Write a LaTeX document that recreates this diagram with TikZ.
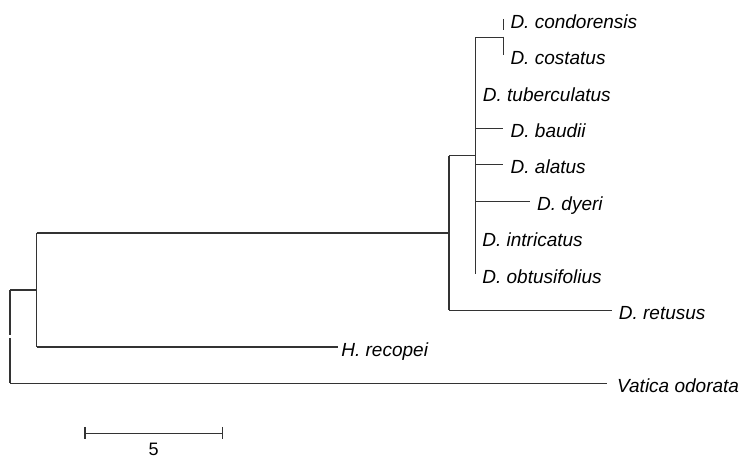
\documentclass[tikz,border=0pt]{standalone}
\usepackage{fontspec}
\setmainfont{Liberation Sans}
\usetikzlibrary{calc}
\begin{document}
\begin{tikzpicture}[x=1bp,y=-1bp,
  br/.style={draw=black!80,line width=1.2bp},
  lab/.style={anchor=base west,inner sep=0pt,font=\fontsize{19bp}{22bp}\selectfont\itshape},
  sclab/.style={anchor=base,inner sep=0pt,font=\fontsize{18bp}{20bp}\selectfont}]
\useasboundingbox (0,0) rectangle (745,459);
% internal nodes
\coordinate (root) at (10,336.7);
\coordinate (n2) at (36.7,290);
\coordinate (n3) at (449,233);
\coordinate (n4) at (475.7,155.6);
\coordinate (n5) at (503.3,37.2);
% tips
\coordinate (t1) at (503.3,19);
\coordinate (t2) at (503.3,55.4);
\coordinate (t3) at (475.7,91.9);
\coordinate (t4) at (503,128.3);
\coordinate (t5) at (503,164.7);
\coordinate (t6) at (530,201.2);
\coordinate (t7) at (475.7,237.6);
\coordinate (t8) at (475.7,274);
\coordinate (t9) at (611.7,310.4);
\coordinate (t10) at (337.7,346.9);
\coordinate (t11) at (607,383.3);
% root
\draw[br] (root |- n2) -- ($(root)+(0,-1.2)$);
\draw[br] ($(root)+(0,1.2)$) -- (root |- t11);
\draw[br] (root |- n2) -- (n2);
\draw[br] (root |- t11) -- (t11);
% n2
\draw[br] (n2 |- n3) -- (n2 |- t10);
\draw[br] (n2 |- n3) -- (n3);
\draw[br] (n2 |- t10) -- (t10);
% n3
\draw[br] (n3 |- n4) -- (n3 |- t9);
\draw[br] (n3 |- n4) -- (n4);
\draw[br] (n3 |- t9) -- (t9);
% n4
\draw[br] (n4 |- n5) -- (n4 |- t8);
\draw[br] (n4 |- n5) -- (n5);
\draw[br] (n4 |- t4) -- (t4);
\draw[br] (n4 |- t5) -- (t5);
\draw[br] (n4 |- t6) -- (t6);
% n5
\draw[br] (n5 |- t1) -- ($(n5)+(0,-7)$);
\draw[br] ($(n5)+(0,-0.5)$) -- (n5 |- t2);
% labels
\node[lab] (l1) at ($(t1)+(7,9.3)$) {D. condorensis};
\node[lab] (l2) at ($(t2)+(7,9.3)$) {D. costatus};
\node[lab] (l3) at ($(t3)+(7,9.3)$) {D. tuberculatus};
\node[lab] (l4) at ($(t4)+(7.5,9.3)$) {D. baudii};
\node[lab] (l5) at ($(t5)+(7.5,9.3)$) {D. alatus};
\node[lab] (l6) at ($(t6)+(7,9.3)$) {D. dyeri};
\node[lab] (l7) at ($(t7)+(6.5,9.3)$) {D. intricatus};
\node[lab] (l8) at ($(t8)+(6.5,9.3)$) {D. obtusifolius};
\node[lab] (l9) at ($(t9)+(7,9.3)$) {D. retusus};
\node[lab] (l10) at ($(t10)+(3.5,9.3)$) {H. recopei};
\node[lab] (l11) at ($(t11)+(10,9.3)$) {Vatica odorata};
% scale bar
\coordinate (s1) at (85,433.3);
\coordinate (s2) at (222.3,433.3);
\draw[br] (s1) -- (s2);
\draw[br] ($(s1)+(0,-6.5)$) -- ($(s1)+(0,5.5)$);
\draw[br] ($(s2)+(0,-6.5)$) -- ($(s2)+(0,5.5)$);
\node[sclab] (sl) at ($(s1)!0.5!(s2)+(0,22.5)$) {5};
\end{tikzpicture}
\end{document}
